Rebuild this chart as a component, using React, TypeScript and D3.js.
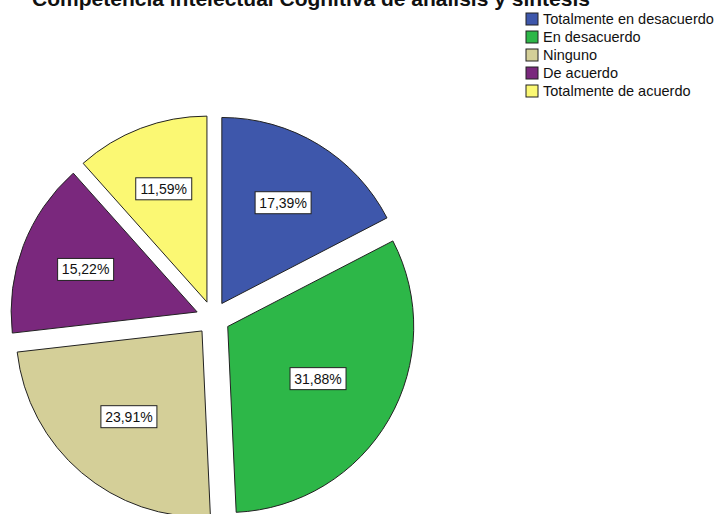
import React from "react";
import * as d3 from "d3";

const TITLE = "Competencia intelectual Cognitiva de análisis y síntesis";
const categories = [
  "Totalmente en desacuerdo",
  "En desacuerdo",
  "Ninguno",
  "De acuerdo",
  "Totalmente de acuerdo",
];
const counts = [24, 44, 33, 21, 16];
const labels = ["17,39%", "31,88%", "23,91%", "15,22%", "11,59%"];
const colors = ["#3E57AB", "#2DB748", "#D4CF98", "#7A287D", "#FBF873"];

const W = 716;
const H = 514;
const CX = 213;
const CY = 318;
const R = 186;
const EXPLODE = 17;

export default function App() {
  const pie = d3.pie<number>().sort(null).startAngle(0).endAngle(2 * Math.PI);
  const arcs = pie(counts);
  const arc = d3.arc<d3.PieArcDatum<number>>().innerRadius(0).outerRadius(R);
  const font = "'Liberation Sans', Arial, sans-serif";

  return (
    <svg
      width={W}
      height={H}
      style={{ position: "absolute", left: 0, top: 0, background: "#fff" }}
      fontFamily={font}
    >
      <rect width={W} height={H} fill="#fff" />
      <text
        x={311}
        y={6}
        textAnchor="middle"
        fontSize={21}
        fontWeight="bold"
        fill="#111"
      >
        {TITLE}
      </text>
      {arcs.map((a, i) => {
        const mid = (a.startAngle + a.endAngle) / 2;
        const dx = Math.sin(mid) * EXPLODE;
        const dy = -Math.cos(mid) * EXPLODE;
        return (
          <g key={i} transform={`translate(${CX + dx},${CY + dy})`}>
            <path d={arc(a) || ""} fill={colors[i]} stroke="#222" strokeWidth={1} />
          </g>
        );
      })}
      {arcs.map((a, i) => {
        const mid = (a.startAngle + a.endAngle) / 2;
        const dx = Math.sin(mid) * EXPLODE;
        const dy = -Math.cos(mid) * EXPLODE;
        const half = (a.endAngle - a.startAngle) / 2;
        const dist = (2 * R * Math.sin(half)) / (3 * half);
        const lx = CX + dx + Math.sin(mid) * dist;
        const ly = CY + dy - Math.cos(mid) * dist;
        const bw = 56;
        const bh = 22;
        return (
          <g key={"l" + i}>
            <rect
              x={lx - bw / 2}
              y={ly - bh / 2}
              width={bw}
              height={bh}
              fill="#fff"
              stroke="#222"
              strokeWidth={1}
            />
            <text
              x={lx}
              y={ly + 5}
              textAnchor="middle"
              fontSize={14}
              fill="#111"
            >
              {labels[i]}
            </text>
          </g>
        );
      })}
      {categories.map((c, i) => (
        <g key={"lg" + i} transform={`translate(526,${13 + i * 18})`}>
          <rect width={12} height={12} fill={colors[i]} stroke="#222" strokeWidth={1} />
          <text x={17} y={11} fontSize={14.5} fill="#111">
            {c}
          </text>
        </g>
      ))}
    </svg>
  );
}
